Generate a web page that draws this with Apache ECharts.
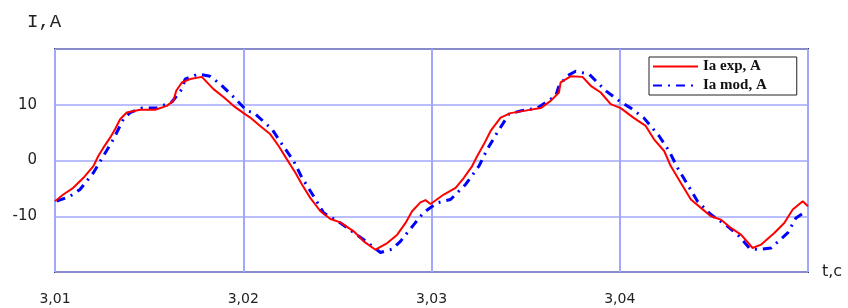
<!DOCTYPE html>
<html>
<head>
<meta charset="utf-8">
<script src="https://cdn.jsdelivr.net/npm/echarts@6/dist/echarts.min.js"></script>
<style>html,body{margin:0;padding:0;background:#fff}#c{width:848px;height:308px}</style>
</head>
<body>
<div id="c"></div>
<script>
const seriesNames = ['Ia exp, A', 'Ia mod, A'];
const xTicks = [3.01, 3.02, 3.03, 3.04, 3.05];
const yTicks = [-20, -10, 0, 10, 20];

const tExp = [3.0100,3.01044,3.01097,3.01151,3.01204,3.0123,3.01257,3.01293,3.01319,3.01346,3.01381,3.01452,3.01532,3.01594,3.01629,3.01644,3.01674,3.01718,3.0178,3.01842,3.01895,3.01948,3.02002,3.02037,3.0209,3.02144,3.02188,3.02232,3.02277,3.02312,3.02356,3.0241,3.02463,3.02516,3.02587,3.0264,3.02702,3.02765,3.02818,3.02862,3.02897,3.02941,3.02968,3.02995,3.03065,3.03128,3.03172,3.03216,3.03243,3.03278,3.03314,3.03367,3.0342,3.03491,3.0358,3.03633,3.03677,3.03686,3.03739,3.03802,3.03846,3.03899,3.03952,3.04005,3.04076,3.04138,3.04182,3.04236,3.04271,3.04324,3.04378,3.04431,3.04484,3.04537,3.0459,3.04644,3.04706,3.0475,3.04821,3.04874,3.04919,3.04972,3.0500];
const iExp = [-7.3,-6.1,-4.9,-3.1,-1.0,0.8,2.3,4.1,5.6,7.4,8.6,9.1,9.1,9.8,10.7,12.5,14.0,14.6,15.0,12.8,11.4,9.8,8.5,7.7,6.2,4.7,2.6,0.2,-2.2,-4.3,-6.7,-9.1,-10.5,-11.1,-12.7,-14.5,-16.0,-14.8,-13.3,-11.2,-9.1,-7.5,-7.1,-7.8,-6.1,-4.9,-3.1,-1.0,0.8,2.9,5.3,7.7,8.5,8.9,9.4,10.7,12.2,14.0,15.1,15.0,13.4,12.2,10.1,9.4,7.6,6.2,3.8,1.7,-1.0,-4.0,-7.0,-8.5,-10.0,-10.6,-12.1,-13.3,-15.7,-15.1,-13.0,-11.2,-8.8,-7.3,-8.2];

const tMod = [3.01009,3.0108,3.01133,3.01204,3.01257,3.0131,3.01363,3.01399,3.01461,3.01541,3.01621,3.01674,3.01691,3.01762,3.01824,3.01878,3.01948,3.0202,3.02055,3.02153,3.02206,3.02268,3.02312,3.02374,3.02427,3.02516,3.0264,3.02729,3.02791,3.02835,3.02906,3.02959,3.0303,3.03101,3.03181,3.03252,3.03296,3.03349,3.03411,3.03473,3.03562,3.0366,3.03677,3.03722,3.03766,3.03837,3.03926,3.04005,3.04059,3.04129,3.04209,3.04262,3.04307,3.0436,3.04413,3.04484,3.04573,3.04635,3.04688,3.04733,3.04803,3.04892,3.04936,3.04972];
const iMod = [-7.3,-6.4,-5.2,-2.2,0.8,3.8,7.4,8.6,9.4,9.4,10.5,12.8,14.6,15.5,15.1,13.7,11.4,8.9,8.6,5.6,2.9,-0.1,-3.1,-6.4,-9.4,-11.2,-14.2,-16.5,-15.9,-14.5,-11.5,-9.3,-7.6,-7.0,-4.3,-1.0,2.0,5.0,8.3,8.9,9.4,11.6,13.4,15.2,16.0,15.5,12.5,10.5,9.4,7.6,4.4,1.7,-1.3,-4.3,-7.3,-9.7,-11.8,-13.6,-15.7,-16.0,-15.7,-13.0,-10.3,-9.5];

const expData = tExp.map((t, i) => [t, iExp[i]]);
const modData = tMod.map((t, i) => [t, iMod[i]]);

const chart = echarts.init(document.getElementById('c'));
const gridColor = '#a3a8ff';
chart.setOption({
  animation: false,
  backgroundColor: '#fff',
  grid: { left: 55, right: 40, top: 49, bottom: 36, show: true, borderColor: '#3a3a3a', borderWidth: 2, backgroundColor: 'transparent' },
  legend: {
    orient: 'vertical', left: 649, top: 57, padding: [2, 30, 2, 3], itemGap: 4,
    itemWidth: 45, itemHeight: 14,
    backgroundColor: '#fff', borderColor: '#222', borderWidth: 1, borderRadius: 0,
    itemStyle: { color: 'transparent', borderWidth: 0, opacity: 0 },
    textStyle: { fontFamily: 'Liberation Serif', fontSize: 15, fontWeight: 'bold', color: '#111' },
    data: seriesNames
  },
  xAxis: {
    type: 'value', min: xTicks[0], max: xTicks[xTicks.length - 1], interval: 0.01,
    name: 't,c', nameLocation: 'end', nameGap: 14,
    nameTextStyle: { fontFamily: 'DejaVu Sans', fontSize: 16, color: '#222', verticalAlign: 'middle' },
    axisLine: { show: false, onZero: false }, axisTick: { show: false },
    axisLabel: { margin: 20, fontFamily: 'DejaVu Sans', fontSize: 14, color: '#222',
      formatter: v => (Math.abs(v - 3.05) < 1e-6) ? '' : v.toFixed(2).replace('.', ',') },
    splitLine: { show: true, lineStyle: { color: gridColor, width: 2 } }
  },
  yAxis: {
    type: 'value', min: yTicks[0], max: yTicks[yTicks.length - 1], interval: 10,
    axisLine: { show: false }, axisTick: { show: false },
    axisLabel: { margin: 18, fontFamily: 'DejaVu Sans', fontSize: 15, color: '#222',
      formatter: v => (Math.abs(v) === 20) ? '' : String(v) },
    splitLine: { show: true, lineStyle: { color: gridColor, width: 1.5 } }
  },
  graphic: [
    { type: 'text', left: 27, top: 12, style: { text: 'I,A', font: '19px "Liberation Mono"', fill: '#222' } }
  ],
  series: [
    { name: seriesNames[1], type: 'line', data: modData, symbol: 'none', showSymbol: false, z: 2,
      lineStyle: { color: '#0000ff', width: 3, type: [9, 6, 2, 6] }, itemStyle: { color: '#0000ff' } },
    { name: seriesNames[0], type: 'line', data: expData, symbol: 'none', showSymbol: false, z: 3,
      lineStyle: { color: '#ff0000', width: 2 }, itemStyle: { color: '#ff0000' } }
  ]
});
</script>
</body>
</html>
